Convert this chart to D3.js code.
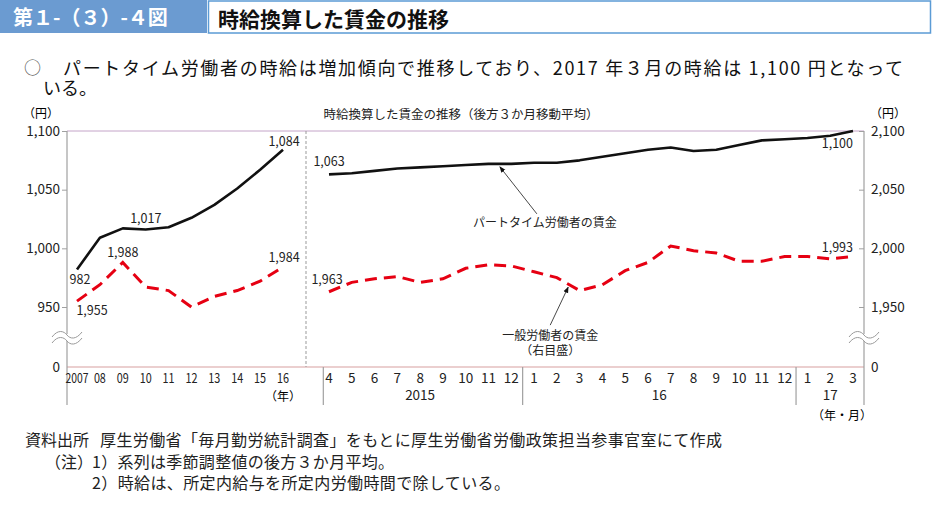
<!DOCTYPE html>
<html lang="ja">
<head>
<meta charset="utf-8">
<script src="https://cdn.jsdelivr.net/npm/d3@7"></script>
<style>
  body { margin: 0; background: #fff; }
  svg { display: block; font-family: "Noto Sans CJK JP", "Noto Sans", sans-serif; }
</style>
</head>
<body>
<div id="chart"></div>
<script>
// annual (2007-2016)
const years = ["2007", "08", "09", "10", "11", "12", "13", "14", "15", "16"];
const partAnnual = [982, 1009, 1017, 1016, 1018, 1026, 1037, 1051, 1067, 1084];
const generalAnnual = [1955, 1969, 1988, 1967, 1964, 1947, 1959, 1964, 1972, 1984];

// monthly (2015.4 - 2017.3)
const months = ["4", "5", "6", "7", "8", "9", "10", "11", "12", "1", "2", "3",
  "4", "5", "6", "7", "8", "9", "10", "11", "12", "1", "2", "3"];
const monthGroups = [
  { label: "2015", from: 0, to: 8 },
  { label: "16", from: 9, to: 20 },
  { label: "17", from: 21, to: 23 },
];
const partMonthly = [1063, 1064, 1066, 1068, 1069, 1070, 1071, 1072, 1072, 1073, 1073, 1075,
  1078, 1081, 1084, 1086, 1083, 1084, 1088, 1092, 1093, 1094, 1096, 1100];
const generalMonthly = [1963, 1971, 1974, 1976, 1971, 1974, 1983, 1986, 1985, 1980, 1975, 1964,
  1969, 1981, 1988, 2002, 1998, 1996, 1989, 1989, 1993, 1993, 1991, 1993];

const leftTicks = [0, 950, 1000, 1050, 1100];
const rightTicks = [0, 1950, 2000, 2050, 2100];

const width = 932;
const height = 513;
const plot = { left: 67, right: 864, top: 131, bottom: 367, axisEnd: 405 };

const svg = d3
  .select("#chart")
  .append("svg")
  .attr("width", width)
  .attr("height", height);

// header
svg.append("rect").attr("x", 0).attr("y", 0).attr("width", 207).attr("height", 33).attr("fill", "#6b9bd1");
svg.append("text").attr("x", 13).attr("y", 25).attr("fill", "#fff")
  .attr("font-size", 20).attr("font-weight", "bold").text("第１-（３）-４図");
svg.append("rect").attr("x", 208.5).attr("y", 1).attr("width", 722).attr("height", 32)
  .attr("fill", "#fff").attr("stroke", "#5b9bd5").attr("stroke-width", 1.5);
svg.append("text").attr("x", 218).attr("y", 27).attr("fill", "#111")
  .attr("font-size", 21).attr("font-weight", "bold").text("時給換算した賃金の推移");

svg.append("text").attr("x", 24).attr("y", 74).attr("font-size", 17).attr("fill", "#555").text("○");
svg.append("text").attr("x", 63).attr("y", 75).attr("font-size", 18).attr("fill", "#111")
  .attr("textLength", 840).attr("lengthAdjust", "spacing")
  .text("パートタイム労働者の時給は増加傾向で推移しており、2017 年３月の時給は 1,100 円となって");
svg.append("text").attr("x", 43).attr("y", 95).attr("font-size", 18).attr("fill", "#111").text("いる。");

// scales
const xa = d3.scalePoint().domain(years).range([77, 283]);
const xm = d3.scalePoint().domain(d3.range(months.length)).range([329, 853]);
const yL = d3.scaleLinear().domain([0, 950, 1100]).range([plot.bottom, 307, plot.top]);
const yR = d3.scaleLinear().domain([0, 1950, 2100]).range([plot.bottom, 307, plot.top]);

// frame
svg.append("line").attr("x1", plot.left).attr("x2", plot.right).attr("y1", plot.top).attr("y2", plot.top)
  .attr("stroke", "#c4a4c8").attr("stroke-width", 1);
svg.append("line").attr("x1", plot.left).attr("x2", plot.right).attr("y1", plot.bottom).attr("y2", plot.bottom)
  .attr("stroke", "#d8a0a0").attr("stroke-width", 1.2);
[plot.left, plot.right].forEach((x) =>
  svg.append("line").attr("x1", x).attr("x2", x).attr("y1", plot.top).attr("y2", plot.axisEnd)
    .attr("stroke", "#a0a0a0").attr("stroke-width", 1.2)
);

const leftAxis = svg.append("g").attr("transform", `translate(${plot.left},0)`)
  .call(d3.axisLeft(yL).tickValues(leftTicks).tickFormat(d3.format(",")).tickSize(5).tickPadding(2));
const rightAxis = svg.append("g").attr("transform", `translate(${plot.right},0)`)
  .call(d3.axisRight(yR).tickValues(rightTicks).tickFormat(d3.format(",")).tickSize(-5).tickPadding(7));
[leftAxis, rightAxis].forEach((g) => {
  g.select(".domain").remove();
  g.selectAll(".tick line").attr("stroke", "#a0a0a0").filter((d) => d === 0).remove();
  g.selectAll(".tick text").attr("font-size", 13.5).attr("fill", "#222")
    .attr("font-family", "'Noto Sans CJK JP', sans-serif");
});

// axis breaks
function wave(cx, cy) {
  return `M${cx - 15},${cy + 2} C${cx - 9},${cy - 6} ${cx - 3},${cy - 4} ${cx},${cy} S${cx + 9},${cy + 5} ${cx + 15},${cy - 3}`;
}
const breakY = (yL(950) + yL(0)) / 2;
[plot.left, plot.right].forEach((x) => {
  svg.append("rect").attr("x", x - 3).attr("y", breakY - 3).attr("width", 6).attr("height", 7).attr("fill", "#fff");
  [0, 6].forEach((o) =>
    svg.append("path").attr("d", wave(x, breakY - 2 + o)).attr("fill", "none")
      .attr("stroke", "#9a9a9a").attr("stroke-width", 1)
  );
});

// units
svg.append("text").attr("x", 41).attr("y", 118).attr("text-anchor", "middle").attr("font-size", 12).text("（円）");
svg.append("text").attr("x", 888).attr("y", 118).attr("text-anchor", "middle").attr("font-size", 12).text("（円）");
svg.append("text").attr("x", 461).attr("y", 119).attr("text-anchor", "middle").attr("font-size", 12.5)
  .attr("fill", "#222").text("時給換算した賃金の推移（後方３か月移動平均）");

// dotted divider between annual and monthly
const divX = (xa("16") + xm(0)) / 2;
svg.append("line").attr("x1", divX).attr("x2", divX).attr("y1", plot.top).attr("y2", plot.bottom)
  .attr("stroke", "#999").attr("stroke-dasharray", "3,2");

// x labels
svg.selectAll(".yearLabel").data(years).enter().append("text")
  .attr("class", "yearLabel")
  .attr("x", (d) => xa(d)).attr("y", 382.5).attr("text-anchor", "middle")
  .attr("font-size", 13).attr("fill", "#222")
  .attr("textLength", (d) => (d.length === 4 ? 23 : 12)).attr("lengthAdjust", "spacingAndGlyphs")
  .text((d) => d);
svg.append("text").attr("x", xa("16")).attr("y", 401).attr("text-anchor", "middle").attr("font-size", 12).text("（年）");

svg.selectAll(".monthLabel").data(months).enter().append("text")
  .attr("class", "monthLabel")
  .attr("x", (d, i) => xm(i)).attr("y", 382.5).attr("text-anchor", "middle")
  .attr("font-size", 13.5).attr("fill", "#222").text((d) => d);
svg.selectAll(".groupLabel").data(monthGroups).enter().append("text")
  .attr("class", "groupLabel")
  .attr("x", (d) => (xm(d.from) + xm(d.to)) / 2).attr("y", 400).attr("text-anchor", "middle")
  .attr("font-size", 13.5).attr("fill", "#222").text((d) => d.label);
const seps = [xm(0) - xm.step() / 4, (xm(8) + xm(9)) / 2, (xm(20) + xm(21)) / 2];
svg.selectAll(".sep").data(seps).enter().append("line")
  .attr("x1", (d) => d).attr("x2", (d) => d).attr("y1", plot.bottom).attr("y2", plot.axisEnd)
  .attr("stroke", "#a0a0a0").attr("stroke-width", 1.2);
svg.append("text").attr("x", 842).attr("y", 420).attr("text-anchor", "middle").attr("font-size", 12).text("（年・月）");

// lines
const partLineA = d3.line().x((d, i) => xa(years[i])).y((d) => yL(d));
const genLineA = d3.line().x((d, i) => xa(years[i])).y((d) => yR(d));
const partLineM = d3.line().x((d, i) => xm(i)).y((d) => yL(d));
const genLineM = d3.line().x((d, i) => xm(i)).y((d) => yR(d));

[genLineA(generalAnnual), genLineM(generalMonthly)].forEach((p) =>
  svg.append("path").attr("d", p).attr("fill", "none").attr("stroke", "#e60012")
    .attr("stroke-width", 3).attr("stroke-dasharray", "12,7")
);
[partLineA(partAnnual), partLineM(partMonthly)].forEach((p) =>
  svg.append("path").attr("d", p).attr("fill", "none").attr("stroke", "#111")
    .attr("stroke-width", 2.6).attr("stroke-linejoin", "round")
);

// value labels
const n = years.length - 1;
const m = months.length - 1;
const valueLabels = [
  { x: xa(years[0]) + 3, y: yL(partAnnual[0]) + 15, v: partAnnual[0], a: "middle" },
  { x: xa(years[2]) + 23, y: yL(partAnnual[2]) - 5, v: partAnnual[2], a: "middle" },
  { x: xa(years[n]) + 1, y: yL(partAnnual[n]) - 4, v: partAnnual[n], a: "middle" },
  { x: xa(years[0]) + 15, y: yR(generalAnnual[0]) + 14, v: generalAnnual[0], a: "middle" },
  { x: xa(years[2]), y: yR(generalAnnual[2]) - 5, v: generalAnnual[2], a: "middle" },
  { x: xa(years[n]) + 1, y: yR(generalAnnual[n]) - 5, v: generalAnnual[n], a: "middle" },
  { x: xm(0), y: yL(partMonthly[0]) - 8, v: partMonthly[0], a: "middle" },
  { x: xm(m), y: yL(partMonthly[m]) + 17, v: partMonthly[m], a: "end" },
  { x: xm(0) - 2, y: yR(generalMonthly[0]) - 8, v: generalMonthly[0], a: "middle" },
  { x: xm(m), y: yR(generalMonthly[m]) - 5, v: generalMonthly[m], a: "end" },
];
svg.selectAll(".valueLabel").data(valueLabels).enter().append("text")
  .attr("class", "valueLabel")
  .attr("x", (d) => d.x).attr("y", (d) => d.y).attr("text-anchor", (d) => d.a)
  .attr("font-size", 12.5).attr("fill", "#222").text((d) => d3.format(",")(d.v));

// annotations
svg.append("defs").append("marker")
  .attr("id", "arrow").attr("viewBox", "0 0 10 10").attr("refX", 9).attr("refY", 5)
  .attr("markerWidth", 7).attr("markerHeight", 7).attr("orient", "auto")
  .append("path").attr("d", "M0,1 L10,5 L0,9 Z").attr("fill", "#111");

const partTipX = (xm(7) + xm(8)) / 2;
const partTipY = yL((partMonthly[7] + partMonthly[8]) / 2) + 3;
svg.append("line").attr("x1", partTipX + 37).attr("y1", partTipY + 47).attr("x2", partTipX).attr("y2", partTipY)
  .attr("stroke", "#333").attr("stroke-width", 0.9).attr("marker-end", "url(#arrow)");
svg.append("text").attr("x", partTipX + 45).attr("y", partTipY + 60).attr("text-anchor", "middle")
  .attr("font-size", 12).attr("fill", "#222").text("パートタイム労働者の賃金");

const genTipX = (xm(10) + xm(11)) / 2;
const genTipY = yR((generalMonthly[10] + generalMonthly[11]) / 2) + 3;
svg.append("line").attr("x1", genTipX - 18).attr("y1", genTipY + 38).attr("x2", genTipX).attr("y2", genTipY)
  .attr("stroke", "#333").attr("stroke-width", 0.9).attr("marker-end", "url(#arrow)");
svg.append("text").attr("x", genTipX - 18).attr("y", genTipY + 53).attr("text-anchor", "middle")
  .attr("font-size", 12).attr("fill", "#222").text("一般労働者の賃金");
svg.append("text").attr("x", genTipX - 18).attr("y", genTipY + 68).attr("text-anchor", "middle")
  .attr("font-size", 12).attr("fill", "#222").text("（右目盛）");

// notes
const notes = [
  { x: 25, y: 446, t: "資料出所" },
  { x: 100, y: 446, t: "厚生労働省「毎月勤労統計調査」をもとに厚生労働省労働政策担当参事官室にて作成", w: 622 },
  { x: 45, y: 468, t: "（注）" },
  { x: 92, y: 468, t: "1）系列は季節調整値の後方３か月平均。", w: 302 },
  { x: 92, y: 489, t: "2）時給は、所定内給与を所定内労働時間で除している。", w: 418 },
];
svg.selectAll(".note").data(notes).enter().append("text")
  .attr("class", "note")
  .attr("x", (d) => d.x).attr("y", (d) => d.y)
  .attr("font-size", 16).attr("fill", "#222")
  .attr("textLength", (d) => d.w || null).attr("lengthAdjust", "spacing")
  .text((d) => d.t);
</script>
</body>
</html>
